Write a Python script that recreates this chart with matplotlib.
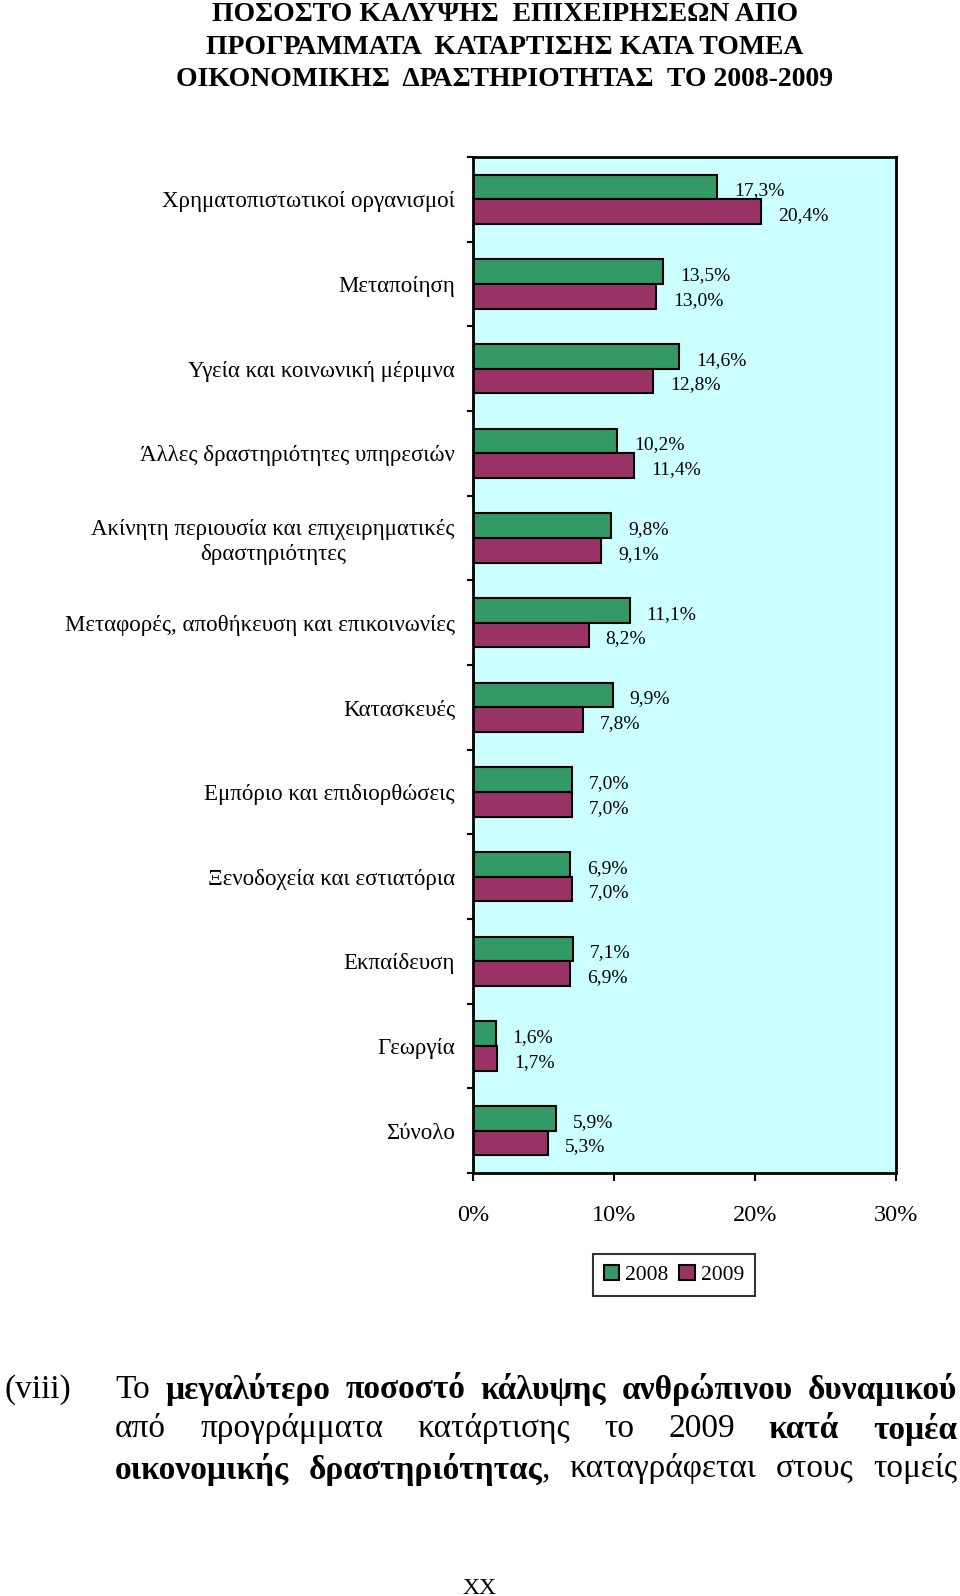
import matplotlib
matplotlib.use("Agg")
import matplotlib.pyplot as plt
import numpy as np

plt.rcParams['font.family'] = ['Liberation Serif', 'DejaVu Serif']

# Δεδομένα
categories = [
    "Χρηματοπιστωτικοί οργανισμοί",
    "Μεταποίηση",
    "Υγεία και κοινωνική μέριμνα",
    "Άλλες δραστηριότητες υπηρεσιών",
    "Ακίνητη περιουσία και επιχειρηματικές\nδραστηριότητες",
    "Μεταφορές, αποθήκευση και επικοινωνίες",
    "Κατασκευές",
    "Εμπόριο και επιδιορθώσεις",
    "Ξενοδοχεία και εστιατόρια",
    "Εκπαίδευση",
    "Γεωργία",
    "Σύνολο",
]
values_2008 = [17.3, 13.5, 14.6, 10.2, 9.8, 11.1, 9.9, 7.0, 6.9, 7.1, 1.6, 5.9]
values_2009 = [20.4, 13.0, 12.8, 11.4, 9.1, 8.2, 7.8, 7.0, 7.0, 6.9, 1.7, 5.3]
years = ["2008", "2009"]
x_ticks = [0, 10, 20, 30]
x_ticklabels = ["0%", "10%", "20%", "30%"]

title = ("ΠΟΣΟΣΤΟ ΚΑΛΥΨΗΣ  ΕΠΙΧΕΙΡΗΣΕΩΝ ΑΠΟ\n"
         "ΠΡΟΓΡΑΜΜΑΤΑ  ΚΑΤΑΡΤΙΣΗΣ ΚΑΤΑ ΤΟΜΕΑ\n"
         "ΟΙΚΟΝΟΜΙΚΗΣ  ΔΡΑΣΤΗΡΙΟΤΗΤΑΣ  ΤΟ 2008-2009")

# Κείμενο κάτω από το γράφημα: λέξεις ως (κομμάτι, έντονο)
paragraph = [
    [[("Το", False)], [("μεγαλύτερο", True)], [("ποσοστό", True)], [("κάλυψης", True)],
     [("ανθρώπινου", True)], [("δυναμικού", True)]],
    [[("από", False)], [("προγράμματα", False)], [("κατάρτισης", False)], [("το", False)],
     [("2009", False)], [("κατά", True)], [("τομέα", True)]],
    [[("οικονομικής", True)], [("δραστηριότητας", True), (",", False)],
     [("καταγράφεται", False)], [("στους", False)], [("τομείς", False)]],
]

green = '#339966'
purple = '#993366'
W, H = 960, 1596

fig = plt.figure(figsize=(W / 100, H / 100), dpi=100)
fig.patch.set_facecolor('white')

ax = fig.add_axes([473 / W, (H - 1173) / H, (896 - 473) / W, (1173 - 157) / H])
ax.set_facecolor('#ccffff')

y = np.arange(len(categories))
bh = 0.29
ax.barh(y - bh / 2, values_2008, height=bh, color=green, edgecolor='black', linewidth=1.5, label=years[0])
ax.barh(y + bh / 2, values_2009, height=bh, color=purple, edgecolor='black', linewidth=1.5, label=years[1])

for yi, v1, v2 in zip(y, values_2008, values_2009):
    for v, yy in ((v1, yi - bh / 2), (v2, yi + bh / 2)):
        ax.annotate(f"{v:.1f}%".replace('.', ','), xy=(v, yy), xytext=(17, -4),
                    textcoords='offset pixels', ha='left', va='center', fontsize=14)

ax.set_xlim(0, 30)
ax.set_ylim(len(categories) - 0.5, -0.5)
ax.set_xticks(x_ticks)
ax.set_xticklabels(x_ticklabels, fontsize=17.5)
ax.tick_params(axis='x', direction='out', length=6, width=1.5, pad=17)

ax.set_yticks(y)
ax.set_yticklabels(categories, fontsize=16.5, multialignment='center')
ax.tick_params(axis='y', which='major', length=0, pad=13)
ax.set_yticks(np.arange(len(categories) + 1) - 0.5, minor=True)
ax.tick_params(axis='y', which='minor', direction='out', length=4.5, width=1.5)

for s in ax.spines.values():
    s.set_linewidth(2)
    s.set_color('black')

leg = fig.legend(loc='center', bbox_to_anchor=(674 / W, (H - 1275) / H), ncol=2,
                 fontsize=15.5, frameon=True, fancybox=False, handlelength=0.7,
                 handleheight=0.7, handletextpad=0.3, columnspacing=0.5,
                 borderpad=0.5, borderaxespad=0)
leg.get_frame().set_edgecolor('black')
leg.get_frame().set_linewidth(1.5)

fig.text(505 / W, 1 - 47 / H, title, ha='center', va='center', fontsize=20,
         fontweight='bold', multialignment='center', linespacing=1.4)

# Πλήρης στοίχιση παραγράφου
fs = 24
fig.text(5 / W, 1 - 1390 / H, "(viii)", ha='left', va='center', fontsize=24)
renderer = fig.canvas.get_renderer()
left_px, right_px = 115, 957
line_y = [1390, 1429, 1469]
for words, ly in zip(paragraph, line_y):
    widths = []
    for word in words:
        wsum = 0
        for txt, bold in word:
            t = fig.text(0, 0, txt, fontsize=fs, fontweight='bold' if bold else 'normal')
            wsum += t.get_window_extent(renderer).width
            t.remove()
        widths.append(wsum)
    gap = (right_px - left_px - sum(widths)) / (len(words) - 1)
    xpos = left_px
    for word, wd in zip(words, widths):
        xx = xpos
        for txt, bold in word:
            t = fig.text(xx / W, 1 - ly / H, txt, ha='left', va='center', fontsize=fs,
                         fontweight='bold' if bold else 'normal')
            xx += t.get_window_extent(renderer).width
        xpos += wd + gap

fig.text(479 / W, 1 - 1588 / H, "XX", ha='center', va='center', fontsize=17)

fig.savefig('out.png', dpi=100)
